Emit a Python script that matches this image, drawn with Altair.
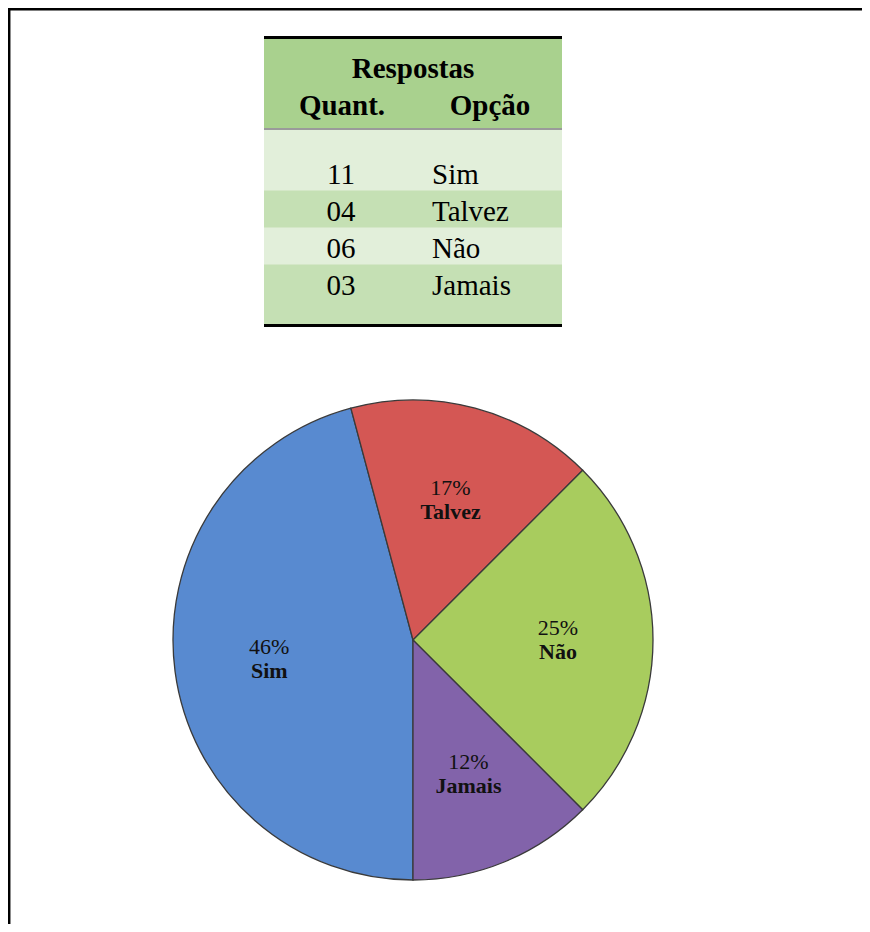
import math
import altair as alt
import pandas as pd

# ---------------- data ----------------
opcoes = ["Sim", "Talvez", "Não", "Jamais"]
quant = [11, 4, 6, 3]
quant_labels = ["11", "04", "06", "03"]
pct_labels = ["46%", "17%", "25%", "12%"]
header_title = ["Respostas"]
header_cols = ["Quant.", "Opção"]

# ---------------- styling / layout ----------------
slice_colors = ["#588AD0", "#D45754", "#A8CC5E", "#8263AA"]
HEAD_GREEN = "#A9D18E"
LIGHT_GREEN = "#E2EFDA"
MID_GREEN = "#C5E0B4"
SERIF = "Liberation Serif"

W, H = 854, 916
CX, CY, R = 405, 632, 240
TX0, TX1 = 256, 554  # table left/right
FS_TABLE = 29
FS_PIE = 22

pie_df = pd.DataFrame({"opcao": opcoes, "quant": quant, "pct": pct_labels,
                       "ord": list(range(len(opcoes)))})
table_df = pd.DataFrame({"quant": quant_labels, "opcao": opcoes,
                         "idx": list(range(len(opcoes)))})

# ---------------- pie ----------------
theta = alt.Theta("quant:Q", stack=True,
                  scale=alt.Scale(range=[math.pi, 3 * math.pi]))
base = alt.Chart(pie_df).encode(theta=theta, order=alt.Order("ord:Q"),
                                x=alt.value(CX), y=alt.value(CY))
arcs = base.mark_arc(outerRadius=R, stroke="#3a3a3a", strokeWidth=1.3).encode(
    color=alt.Color("opcao:N", scale=alt.Scale(domain=opcoes, range=slice_colors),
                    legend=None)
)
pct_txt = base.mark_text(radius=145, dy=-12, font=SERIF, fontSize=FS_PIE,
                         color="#111111").encode(text="pct:N")
name_txt = base.mark_text(radius=145, dy=12, font=SERIF, fontSize=FS_PIE,
                          fontWeight="bold", color="#111111").encode(text="opcao:N")

# ---------------- table ----------------
row_scale = alt.Scale(domain=[0, 3], range=[164, 275])

head_bg = alt.Chart(pd.DataFrame({"a": [0]})).mark_rect(color=HEAD_GREEN).encode(
    x=alt.value(TX0), x2=alt.value(TX1), y=alt.value(30), y2=alt.value(121))
body_bg = alt.Chart(pd.DataFrame({"a": [0]})).mark_rect(color=LIGHT_GREEN).encode(
    x=alt.value(TX0), x2=alt.value(TX1), y=alt.value(121), y2=alt.value(317))
stripes = alt.Chart(table_df).transform_filter("datum.idx % 2 == 1").transform_calculate(
    lo="datum.idx - 0.5", hi="datum.idx + 0.5"
).mark_rect(color=MID_GREEN).encode(
    x=alt.value(TX0), x2=alt.value(TX1),
    y=alt.Y("lo:Q", scale=row_scale, axis=None), y2="hi:Q")
bottom_pad = alt.Chart(pd.DataFrame({"a": [0]})).mark_rect(color=MID_GREEN).encode(
    x=alt.value(TX0), x2=alt.value(TX1), y=alt.value(292), y2=alt.value(317))

top_line = alt.Chart(pd.DataFrame({"a": [0]})).mark_rule(color="black", strokeWidth=3).encode(
    x=alt.value(TX0), x2=alt.value(TX1), y=alt.value(29.5))
sep_line = alt.Chart(pd.DataFrame({"a": [0]})).mark_rule(color="#9a9a9a", strokeWidth=2).encode(
    x=alt.value(TX0), x2=alt.value(TX1), y=alt.value(121))
bot_line = alt.Chart(pd.DataFrame({"a": [0]})).mark_rule(color="black", strokeWidth=3).encode(
    x=alt.value(TX0), x2=alt.value(TX1), y=alt.value(317.5))

title_txt = alt.Chart(pd.DataFrame({"t": header_title})).mark_text(
    font=SERIF, fontSize=FS_TABLE, fontWeight="bold", baseline="middle", align="center"
).encode(text="t:N", x=alt.value(405), y=alt.value(61))
qh_txt = alt.Chart(pd.DataFrame({"t": header_cols[:1]})).mark_text(
    font=SERIF, fontSize=FS_TABLE, fontWeight="bold", baseline="middle", align="center"
).encode(text="t:N", x=alt.value(334), y=alt.value(98))
oh_txt = alt.Chart(pd.DataFrame({"t": header_cols[1:]})).mark_text(
    font=SERIF, fontSize=FS_TABLE, fontWeight="bold", baseline="middle", align="center"
).encode(text="t:N", x=alt.value(482), y=alt.value(98))

q_txt = alt.Chart(table_df).mark_text(
    font=SERIF, fontSize=FS_TABLE, baseline="middle", align="center", dy=3
).encode(text="quant:N", x=alt.value(333),
         y=alt.Y("idx:Q", scale=row_scale, axis=None))
o_txt = alt.Chart(table_df).mark_text(
    font=SERIF, fontSize=FS_TABLE, baseline="middle", align="left", dy=3
).encode(text="opcao:N", x=alt.value(424),
         y=alt.Y("idx:Q", scale=row_scale, axis=None))

# ---------------- frame ----------------
frame_top = alt.Chart(pd.DataFrame({"a": [0]})).mark_rule(color="black", strokeWidth=2.5).encode(
    x=alt.value(0), x2=alt.value(W), y=alt.value(1.2))
frame_left = alt.Chart(pd.DataFrame({"a": [0]})).mark_rule(color="black", strokeWidth=2.5).encode(
    x=alt.value(1.2), y=alt.value(0), y2=alt.value(H))

chart = alt.layer(
    head_bg, body_bg, stripes, bottom_pad, top_line, sep_line, bot_line,
    title_txt, qh_txt, oh_txt, q_txt, o_txt,
    arcs, pct_txt, name_txt,
    frame_top, frame_left,
).properties(
    width=W, height=H, padding=0,
    autosize=alt.AutoSizeParams(type="none"),
).configure_view(stroke=None)

chart.save("out.html", embed_options={"renderer": "svg", "actions": False})
